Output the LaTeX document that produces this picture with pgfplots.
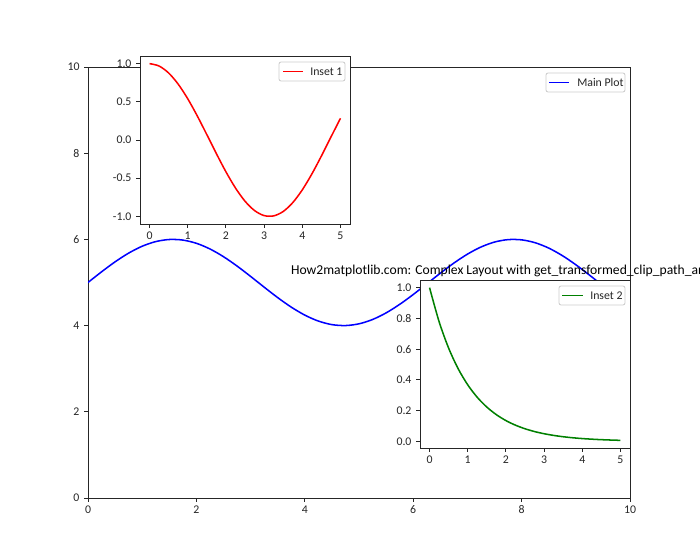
\documentclass[border=0pt]{standalone}
\usepackage{pgfplots}
\pgfplotsset{compat=1.18}
\usepackage{fontspec}
\setmainfont{Carlito}
\definecolor{mplgreen}{RGB}{0,128,0}
\definecolor{txt}{RGB}{38,38,38}
\definecolor{lgframe}{RGB}{204,204,204}
\pgfplotsset{
  every axis/.append style={
    scale only axis,
    anchor=south west,
    axis background/.style={fill=white},
    axis line style={line width=0.6pt, black!85},
    tick align=outside,
    xtick pos=bottom, ytick pos=left,
    major tick length=2.6pt,
    every tick/.style={line width=0.6pt, black!85},
    tick label style={font=\fontsize{8.5}{10}\selectfont, text=txt},
    xticklabel style={yshift=0.5pt},
    /pgf/number format/assume math mode=true,
  }
}
\begin{document}
\begin{tikzpicture}
\path[use as bounding box] (0,0) rectangle (504pt,403.2pt);
% main
\begin{axis}[at={(63.36pt,44.64pt)}, width=390.24pt, height=310.32pt,
  xmin=0, xmax=10, ymin=0, ymax=10,
  xtick={0,2,4,6,8,10}, ytick={0,2,4,6,8,10}]
\addplot[color=blue, line width=1.1pt, smooth] coordinates {
(0,5.0000)(0.25,5.2474)(0.5,5.4794)(0.75,5.6816)(1,5.8415)(1.25,5.9490)(1.5,5.9975)(1.75,5.9840)
(2,5.9093)(2.25,5.7781)(2.5,5.5985)(2.75,5.3817)(3,5.1411)(3.25,4.8918)(3.5,4.6492)(3.75,4.4284)
(4,4.2432)(4.25,4.1050)(4.5,4.0225)(4.75,4.0007)(5,4.0411)(5.25,4.1411)(5.5,4.2945)(5.75,4.4917)
(6,4.7206)(6.25,4.9668)(6.5,5.2151)(6.75,5.4500)(7,5.6570)(7.25,5.8231)(7.5,5.9380)(7.75,5.9946)
(8,5.9894)(8.25,5.9224)(8.5,5.7985)(8.75,5.6248)(9,5.4121)(9.25,5.1739)(9.5,4.9248)(9.75,4.6805)(10,4.4560)};
\end{axis}
% inset 1
\begin{axis}[at={(100.8pt,241.92pt)}, width=151.2pt, height=120.96pt,
  xmin=-0.25, xmax=5.25, ymin=-1.1, ymax=1.1,
  xtick={0,1,2,3,4,5}, ytick={-1,-0.5,0,0.5,1},
  yticklabel style={/pgf/number format/.cd, fixed, fixed zerofill, precision=1}]
\addplot[color=red, line width=1.1pt, smooth] coordinates {
(0,1)(0.25,0.9689)(0.5,0.8776)(0.75,0.7317)(1,0.5403)(1.25,0.3153)(1.5,0.0707)(1.75,-0.1782)
(2,-0.4161)(2.25,-0.6282)(2.5,-0.8011)(2.75,-0.9243)(3,-0.9900)(3.25,-0.9941)(3.5,-0.9365)
(3.75,-0.8206)(4,-0.6536)(4.25,-0.4461)(4.5,-0.2108)(4.75,0.0376)(5,0.2837)};
\end{axis}
% inset 2
\begin{axis}[at={(302.4pt,80.64pt)}, width=151.2pt, height=120.96pt,
  xmin=-0.25, xmax=5.25, ymin=-0.043, ymax=1.0497,
  xtick={0,1,2,3,4,5}, ytick={0,0.2,0.4,0.6,0.8,1},
  yticklabel style={/pgf/number format/.cd, fixed, fixed zerofill, precision=1}]
\addplot[color=mplgreen, line width=1.1pt, smooth] coordinates {
(0,1)(0.25,0.7788)(0.5,0.6065)(0.75,0.4724)(1,0.3679)(1.25,0.2865)(1.5,0.2231)(1.75,0.1738)
(2,0.1353)(2.25,0.1054)(2.5,0.0821)(2.75,0.0639)(3,0.0498)(3.25,0.0388)(3.5,0.0302)
(3.75,0.0235)(4,0.0183)(4.25,0.0143)(4.5,0.0111)(4.75,0.0087)(5,0.0067)};
\end{axis}
% legends
\draw[lgframe, fill=white, line width=0.6pt, rounded corners=1.5pt] (393.12pt,336.96pt) rectangle (450pt,350.64pt);
\draw[blue, line width=1.1pt] (395.28pt,343.8pt) -- (409.68pt,343.8pt);
\node[anchor=base west, inner sep=0pt, font=\fontsize{8.5}{10}\selectfont, text=txt] at (415.44pt,340.9pt) {Main Plot};
\draw[lgframe, fill=white, line width=0.6pt, rounded corners=1.5pt] (200.88pt,344.88pt) rectangle (248.4pt,358.56pt);
\draw[red, line width=1.1pt] (203.76pt,351.72pt) -- (218.16pt,351.72pt);
\node[anchor=base west, inner sep=0pt, font=\fontsize{8.5}{10}\selectfont, text=txt] at (223.2pt,348.8pt) {Inset 1};
\draw[lgframe, fill=white, line width=0.6pt, rounded corners=1.5pt] (402.48pt,183.6pt) rectangle (450pt,197.28pt);
\draw[mplgreen, line width=1.1pt] (404.64pt,190.44pt) -- (419.76pt,190.44pt);
\node[anchor=base west, inner sep=0pt, font=\fontsize{8.5}{10}\selectfont, text=txt] at (424.8pt,187.5pt) {Inset 2};
\begin{scope}
\clip (0,0) rectangle (504pt,403.2pt);
\node[font=\fontsize{9.8}{12}\selectfont, text=black, anchor=base] at (378pt,205.5pt) {How2matplotlib.com: Complex Layout with get\_transformed\_clip\_path\_and\_affine()};
\end{scope}
\end{tikzpicture}
\end{document}
